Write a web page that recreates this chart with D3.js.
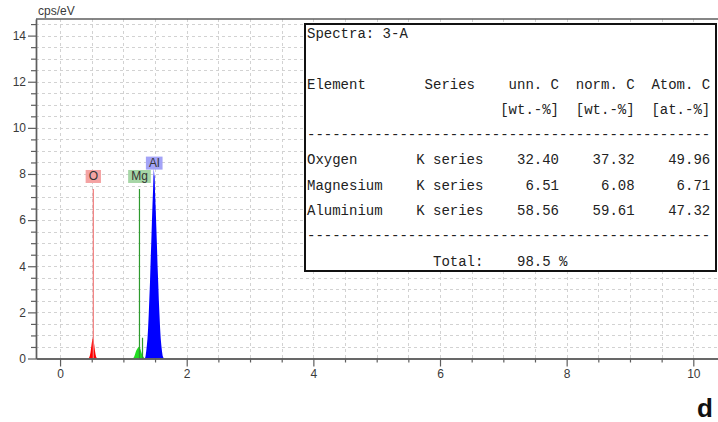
<!DOCTYPE html>
<html>
<head>
<meta charset="utf-8">
<script src="https://cdn.jsdelivr.net/npm/d3@7"></script>
<style>
  html, body { margin: 0; padding: 0; background: #fff; }
  svg { display: block; }
</style>
</head>
<body>
<svg id="chart" width="718" height="422"></svg>
<script>
// ---- Spectrum channels (keV) and intensities (cps/eV) per fitted element ----
const oxygenKeV = [0.45,0.46,0.47,0.48,0.49,0.50,0.51,0.52,0.53,0.54,0.55,0.56,0.57,0.58,0.59];
const oxygenCps = [0,0.04,0.12,0.25,0.45,0.66,0.82,0.88,0.78,0.58,0.36,0.18,0.07,0.02,0];

const magnesiumKeV = [1.15,1.16,1.17,1.18,1.19,1.20,1.21,1.22,1.23,1.24,1.25,1.26,1.27,1.28,1.29,1.30,1.31,1.32,1.33,1.34];
const magnesiumCps = [0,0.03,0.08,0.15,0.24,0.32,0.38,0.42,0.47,0.50,0.52,0.48,0.40,0.30,0.22,0.15,0.10,0.05,0.02,0];

const aluminiumKeV = [1.34,1.35,1.36,1.37,1.38,1.39,1.40,1.41,1.42,1.43,1.44,1.45,1.46,1.47,1.48,1.49,1.50,1.51,1.52,1.53,1.54,1.55,1.56,1.57,1.58,1.59,1.60,1.61,1.62,1.63,1.64];
const aluminiumCps = [0,0.1,0.3,0.55,0.85,1.3,1.9,2.6,3.3,4.2,5.0,5.9,6.7,7.4,8.25,7.9,7.2,6.5,5.7,4.9,4.0,3.3,2.5,1.9,1.3,0.85,0.55,0.3,0.12,0.04,0];

// ---- Element line markers ----
const markerLabel  = ["O", "Mg", "Al", ""];
const markerFamily = ["O", "Mg", "Al", "Mg"];
const markerKeV    = [0.525, 1.254, 1.487, 1.302];
const markerHeight = [7.35, 7.35, 7.93, 0.9];

// ---- Axis ticks ----
const xMajorTicks = [0, 2, 4, 6, 8, 10];
const yMajorTicks = [0, 2, 4, 6, 8, 10, 12, 14];
const yUnit = "cps/eV";

// ---- Quantification table ----
const spectrumName = "Spectra: 3-A";
const headerRow1 = ["Element", "Series", "unn. C", "norm. C", "Atom. C"];
const headerRow2 = ["", "", "[wt.-%]", "[wt.-%]", "[at.-%]"];
const elementNames = ["Oxygen", "Magnesium", "Aluminium"];
const elementSeries = ["K series", "K series", "K series"];
const unnC  = [32.40, 6.51, 58.56];
const normC = [37.32, 6.08, 59.61];
const atomC = [49.96, 6.71, 47.32];
const totalLabel = "Total:";
const totalValue = 98.5;
const panelLetter = "d";

// ---- Drawing ----
const colors = {
  O:  { fill: "#ff0000", line: "#f07a7a", tag: "#f4a3a3" },
  Mg: { fill: "#22dd22", line: "#2e9a2e", tag: "#a6d6a6" },
  Al: { fill: "#0000ff", line: "#8f8ff5", tag: "#a3a3f7" }
};

const svg = d3.select("#chart");
const plot = { left: 36, right: 718, top: 19, bottom: 358.5 };

const x = d3.scaleLinear().domain([-0.38, 10.39]).range([plot.left, plot.right]);
const y = d3.scaleLinear().domain([0, 14.72]).range([plot.bottom, plot.top]);

const axisColor = "#5e5e5e";
const tickFont = "Liberation Sans, Arial, sans-serif";

// Dotted grid every 0.5
const gridX = d3.range(0, 10.39, 0.5);
const gridY = d3.range(0.5, 14.72, 0.5);
const grid = svg.append("g").attr("stroke", "#d2d2d2").attr("stroke-width", 1).attr("stroke-dasharray", "3,3");
grid.selectAll("line.gx").data(gridX).join("line").attr("class", "gx")
  .attr("x1", d => Math.round(x(d)) + 0.5).attr("x2", d => Math.round(x(d)) + 0.5)
  .attr("y1", plot.top).attr("y2", plot.bottom);
grid.selectAll("line.gy").data(gridY).join("line").attr("class", "gy")
  .attr("x1", plot.left).attr("x2", plot.right)
  .attr("y1", d => Math.round(y(d)) + 0.5).attr("y2", d => Math.round(y(d)) + 0.5);

// Element peaks
const area = d3.area().x(d => x(d[0])).y0(y(0)).y1(d => y(d[1]));
const peaks = [
  { el: "Al", pts: d3.zip(aluminiumKeV, aluminiumCps) },
  { el: "Mg", pts: d3.zip(magnesiumKeV, magnesiumCps) },
  { el: "O",  pts: d3.zip(oxygenKeV, oxygenCps) }
];

// Al marker sits behind its peak
const markers = markerKeV.map((e, i) => ({ e, h: markerHeight[i], label: markerLabel[i], el: markerFamily[i] }));
svg.append("g").selectAll("line").data(markers.filter(m => m.el === "Al")).join("line")
  .attr("x1", d => x(d.e)).attr("x2", d => x(d.e))
  .attr("y1", y(0)).attr("y2", d => y(d.h))
  .attr("stroke", d => colors[d.el].line).attr("stroke-width", 1.2);

svg.append("g").selectAll("path").data(peaks).join("path")
  .attr("d", d => area(d.pts))
  .attr("fill", d => colors[d.el].fill);

svg.append("g").selectAll("line").data(markers.filter(m => m.el !== "Al")).join("line")
  .attr("x1", d => x(d.e)).attr("x2", d => x(d.e))
  .attr("y1", y(0)).attr("y2", d => y(d.h))
  .attr("stroke", d => colors[d.el].line).attr("stroke-width", 1.2);

// Marker tags
const tags = svg.append("g").selectAll("g").data(markers.filter(m => m.label)).join("g")
  .attr("transform", d => `translate(${x(d.e)},${y(d.h) - 6})`);
tags.append("text")
  .attr("text-anchor", "middle").attr("y", -2.5)
  .attr("font-family", tickFont).attr("font-size", 12).attr("fill", "#333")
  .text(d => d.label)
  .each(function (d) {
    const w = this.getComputedTextLength() + 6;
    d3.select(this.parentNode).insert("rect", "text")
      .attr("x", -w / 2).attr("y", -13).attr("width", w).attr("height", 13)
      .attr("fill", colors[d.el].tag);
  });

// Axes
function styleAxis(g) {
  g.selectAll("path.domain").attr("stroke", axisColor).attr("stroke-width", 1.4);
  g.selectAll(".tick line").attr("stroke", axisColor).attr("stroke-width", 1.2);
  g.selectAll(".tick text").attr("font-family", tickFont).attr("font-size", 12).attr("fill", "#3a3a3a");
}
const yMinor = d3.range(0, 14.72, 0.5).filter(v => !yMajorTicks.includes(v));
const xMinor = d3.range(0, 10.39, 0.5).filter(v => !xMajorTicks.includes(v));

svg.append("g").attr("transform", `translate(${plot.left},0)`)
  .call(d3.axisLeft(y).tickValues(yMinor).tickSize(5).tickSizeOuter(0).tickFormat(""))
  .call(styleAxis);
svg.append("g").attr("transform", `translate(${plot.left},0)`)
  .call(d3.axisLeft(y).tickValues(yMajorTicks).tickSize(8).tickSizeOuter(0).tickPadding(2))
  .call(styleAxis);

svg.append("g").attr("transform", `translate(0,${plot.bottom})`)
  .call(d3.axisBottom(x).tickValues(xMinor).tickSize(4).tickSizeOuter(0).tickFormat(""))
  .call(styleAxis);
svg.append("g").attr("transform", `translate(0,${plot.bottom})`)
  .call(d3.axisBottom(x).tickValues(xMajorTicks).tickSize(8).tickSizeOuter(0).tickPadding(3))
  .call(styleAxis);

// Top frame line
svg.append("line")
  .attr("x1", plot.left).attr("x2", plot.right).attr("y1", plot.top).attr("y2", plot.top)
  .attr("stroke", axisColor).attr("stroke-width", 1.4);

// Unit label
svg.append("text").attr("x", 38).attr("y", 15)
  .attr("font-family", tickFont).attr("font-size", 12).attr("fill", "#3a3a3a")
  .text(yUnit);

// ---- Quantification table ----
const box = { x: 305, y: 24, w: 411, h: 247 };
svg.append("rect")
  .attr("x", box.x).attr("y", box.y).attr("width", box.w).attr("height", box.h)
  .attr("fill", "#fff").attr("stroke", "#111").attr("stroke-width", 2);

const mono = "Liberation Mono, Courier New, monospace";
const cw = 8.4;            // monospace advance at 14px
const tx0 = 307;           // text origin column 0
const col = c => tx0 + c * cw;
const tbl = svg.append("g").attr("font-family", mono).attr("font-size", 14).attr("fill", "#222");

function cell(text, c, baseline, anchor) {
  tbl.append("text").attr("x", col(c)).attr("y", baseline)
    .attr("text-anchor", anchor || "start").text(text);
}
const rowY = [38, 89, 114, 139, 164, 190, 215, 240, 266];

cell(spectrumName, 0, rowY[0]);

const headerEnds = [null, 20, 30, 39, 48];
headerRow1.forEach((t, i) => i === 0 ? cell(t, 0, rowY[1]) : cell(t, headerEnds[i], rowY[1], "end"));
headerRow2.forEach((t, i) => { if (t) cell(t, headerEnds[i], rowY[2], "end"); });

cell("-".repeat(48), 0, rowY[3]);
elementNames.forEach((name, i) => {
  const b = rowY[4 + i];
  cell(name, 0, b);
  cell(elementSeries[i], 21, b, "end");
  cell(unnC[i].toFixed(2), 30, b, "end");
  cell(normC[i].toFixed(2), 39, b, "end");
  cell(atomC[i].toFixed(2), 48, b, "end");
});
cell("-".repeat(48), 0, rowY[7]);
cell(totalLabel, 15, rowY[8]);
cell(totalValue.toFixed(1) + " %", 25, rowY[8]);

// Panel letter
svg.append("text").attr("x", 705).attr("y", 417).attr("text-anchor", "middle")
  .attr("font-family", "Liberation Sans, Arial, sans-serif").attr("font-weight", "bold")
  .attr("font-size", 26).attr("fill", "#111").text(panelLetter);
</script>
</body>
</html>
